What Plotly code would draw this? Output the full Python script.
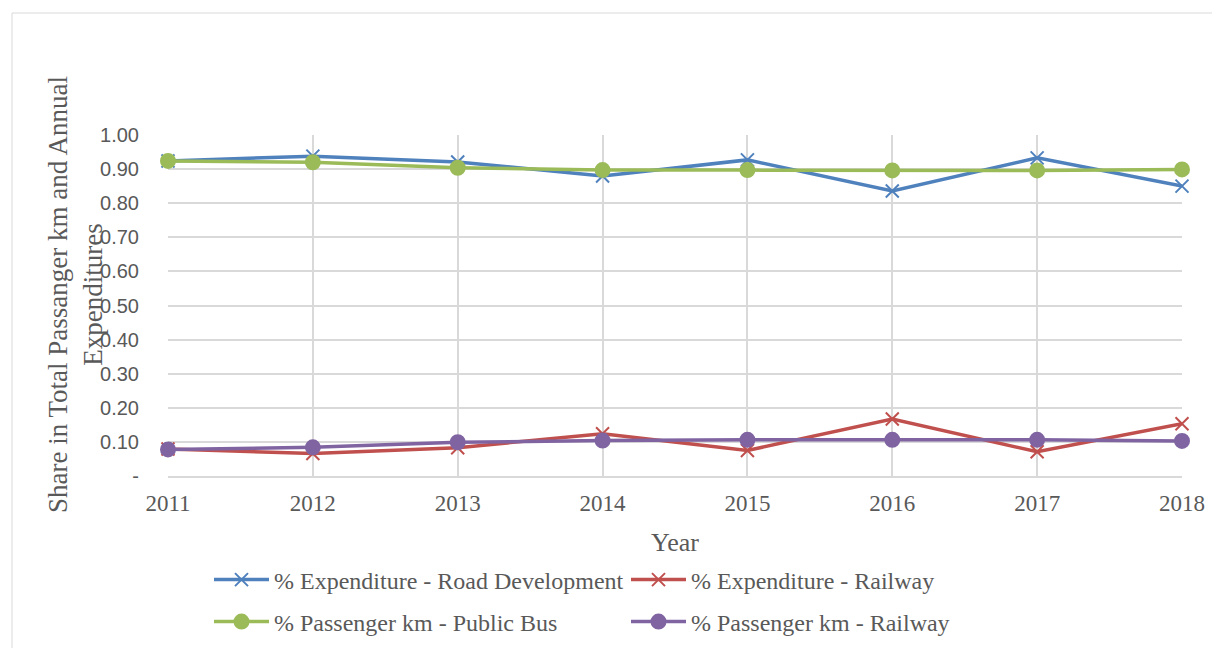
import plotly.graph_objects as go

years = [2011, 2012, 2013, 2014, 2015, 2016, 2017, 2018]
exp_road = [0.924, 0.938, 0.921, 0.880, 0.927, 0.836, 0.933, 0.850]
exp_rail = [0.079, 0.066, 0.083, 0.124, 0.075, 0.167, 0.071, 0.153]
pkm_bus = [0.924, 0.920, 0.904, 0.897, 0.897, 0.896, 0.896, 0.899]
pkm_rail = [0.078, 0.084, 0.099, 0.104, 0.106, 0.106, 0.106, 0.103]

ytick_vals = [0, 0.1, 0.2, 0.3, 0.4, 0.5, 0.6, 0.7, 0.8, 0.9, 1.0]
ytick_text = ["-", "0.10", "0.20", "0.30", "0.40", "0.50", "0.60", "0.70", "0.80", "0.90", "1.00"]

series = [
    ("% Expenditure - Road Development", exp_road, "#4F81BD", "x-thin", 13, "legend"),
    ("% Expenditure - Railway", exp_rail, "#C0504D", "x-thin", 13, "legend"),
    ("% Passenger km - Public Bus", pkm_bus, "#9BBB59", "circle", 14, "legend2"),
    ("% Passenger km - Railway", pkm_rail, "#8064A2", "circle", 14, "legend2"),
]

fig = go.Figure()
for name, vals, color, sym, size, leg in series:
    fig.add_trace(go.Scatter(
        x=years, y=vals, name=name, mode="lines+markers",
        line=dict(color=color, width=3.5),
        marker=dict(symbol=sym, size=size, color=color,
                    line=dict(color=color, width=2)),
        cliponaxis=False, legend=leg,
    ))

serif = "Liberation Serif, Times New Roman, serif"
grey = "#595959"

# page is offset by 8px body margin
FW, FH = 1212, 640
L, T, W, H = 160, 127, 1014, 341
leg_x = 201 / FW

fig.update_layout(
    width=FW, height=FH,
    margin=dict(l=L, r=38, t=T, b=172, autoexpand=False),
    paper_bgcolor="white", plot_bgcolor="white",
    showlegend=True,
    legend=dict(orientation="h", xref="container", yref="container",
                x=leg_x, y=1 - 572 / FH, xanchor="left", yanchor="middle",
                font=dict(family=serif, size=24, color=grey), entrywidth=347,
                itemwidth=55, bgcolor="rgba(0,0,0,0)"),
    legend2=dict(orientation="h", xref="container", yref="container",
                 x=leg_x, y=1 - 614 / FH, xanchor="left", yanchor="middle",
                 font=dict(family=serif, size=24, color=grey), entrywidth=347,
                 itemwidth=55, bgcolor="rgba(0,0,0,0)"),
    xaxis=dict(
        range=[2011, 2018], tickvals=years, ticktext=[str(y) for y in years],
        showgrid=True, gridcolor="#D9D9D9", gridwidth=1.5,
        showline=True, linecolor="#D9D9D9", linewidth=1.5,
        ticks="", tickfont=dict(family=serif, size=23, color=grey),
        ticklabelstandoff=6, automargin=False,
        title=dict(text="Year", font=dict(family=serif, size=26, color=grey), standoff=17),
        zeroline=False,
    ),
    yaxis=dict(
        range=[0, 1], tickvals=ytick_vals, ticktext=ytick_text,
        showgrid=True, gridcolor="#D9D9D9", gridwidth=1.5,
        showline=False, ticks="", zeroline=False, automargin=False,
        tickfont=dict(family="Liberation Sans, Arial, sans-serif", size=20, color=grey),
        ticklabelstandoff=28,
    ),
    shapes=[dict(type="rect", xref="paper", yref="paper",
                 x0=(4 - L) / W, x1=(1212 - L) / W,
                 y0=(468 - 700) / H, y1=(468 - 5) / H,
                 line=dict(color="#D9D9D9", width=1), layer="below")],
    annotations=[dict(
        text="Share in Total Passanger km and Annual<br>Expenditures",
        xref="paper", yref="paper", x=(67 - L) / W, y=(468 - 287) / H,
        xanchor="center", yanchor="middle", textangle=-90, showarrow=False,
        font=dict(family=serif, size=27, color=grey),
    )],
)

fig.write_html("out.html")
